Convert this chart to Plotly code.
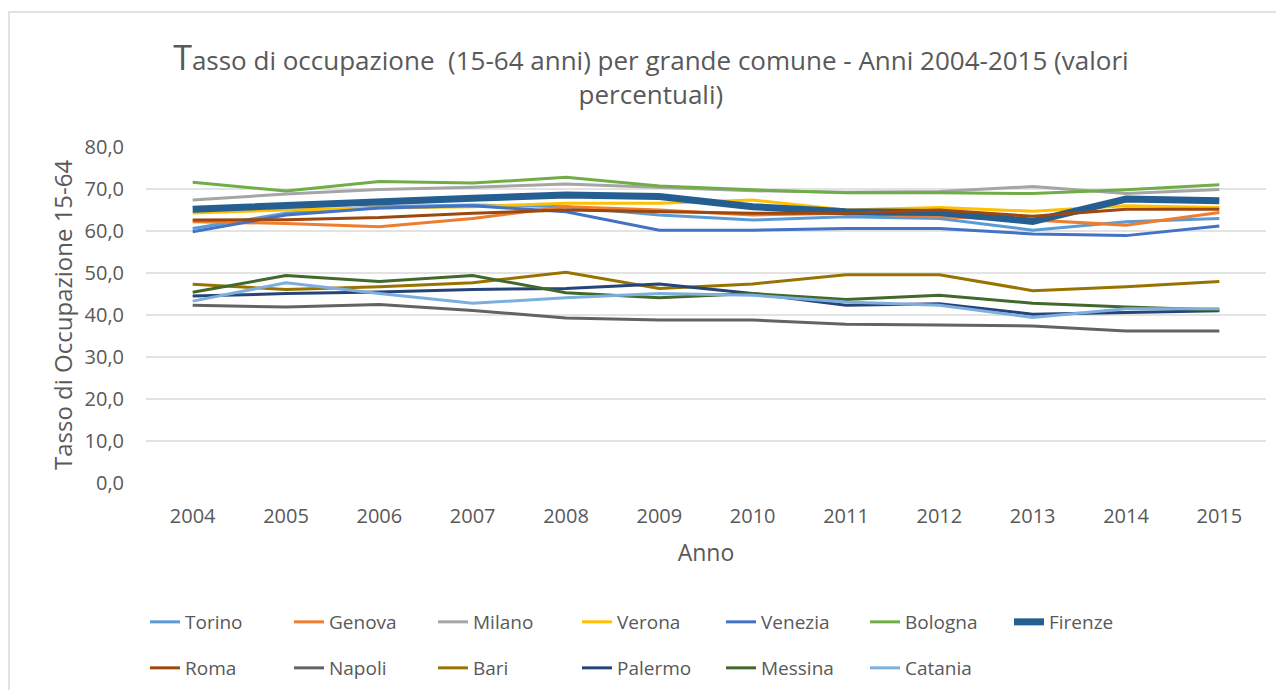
import plotly.graph_objects as go

years = ["2004", "2005", "2006", "2007", "2008", "2009", "2010", "2011", "2012", "2013", "2014", "2015"]

torino = [60.6, 64.2, 65.8, 66.2, 65.8, 63.8, 62.6, 63.4, 63.0, 60.2, 62.2, 63.0]
genova = [62.2, 61.8, 61.0, 63.0, 65.8, 65.0, 63.8, 64.2, 63.4, 62.6, 61.4, 64.4]
milano = [67.4, 68.8, 69.9, 70.4, 71.2, 70.4, 69.6, 69.2, 69.4, 70.6, 68.9, 69.9]
verona = [64.3, 65.0, 65.5, 65.8, 66.6, 66.6, 67.4, 65.0, 65.6, 64.7, 66.0, 65.6]
venezia = [59.8, 63.8, 65.5, 66.0, 64.6, 60.2, 60.2, 60.6, 60.6, 59.3, 58.9, 61.2]
bologna = [71.6, 69.5, 71.8, 71.4, 72.8, 70.7, 69.8, 69.1, 69.1, 68.9, 69.8, 71.0]
firenze = [65.2, 66.2, 67.0, 67.8, 68.6, 68.2, 65.8, 64.6, 64.4, 62.3, 67.6, 67.2]
roma = [62.6, 62.7, 63.2, 64.2, 65.0, 64.6, 64.2, 64.2, 65.0, 63.5, 65.2, 65.2]
napoli = [42.3, 41.9, 42.5, 41.1, 39.3, 38.8, 38.8, 37.8, 37.6, 37.4, 36.2, 36.2]
bari = [47.3, 46.1, 46.7, 47.7, 50.2, 46.3, 47.4, 49.6, 49.6, 45.8, 46.7, 48.0]
palermo = [44.5, 45.1, 45.5, 46.1, 46.3, 47.4, 45.1, 42.3, 42.7, 40.2, 40.6, 41.0]
messina = [45.4, 49.4, 48.0, 49.4, 45.3, 44.1, 45.1, 43.7, 44.7, 42.8, 41.9, 41.2]
catania = [43.3, 47.7, 45.1, 42.8, 44.1, 45.1, 44.7, 43.1, 42.3, 39.4, 41.5, 41.5]

series = [
    ("Torino", torino, "#5B9BD5", 3, "legend"),
    ("Genova", genova, "#ED7D31", 3, "legend"),
    ("Milano", milano, "#A5A5A5", 3, "legend"),
    ("Verona", verona, "#FFC000", 3, "legend"),
    ("Venezia", venezia, "#4472C4", 3, "legend"),
    ("Bologna", bologna, "#70AD47", 3, "legend"),
    ("Firenze", firenze, "#255E91", 7, "legend"),
    ("Roma", roma, "#9E480E", 3, "legend2"),
    ("Napoli", napoli, "#636363", 3, "legend2"),
    ("Bari", bari, "#997300", 3, "legend2"),
    ("Palermo", palermo, "#264478", 3, "legend2"),
    ("Messina", messina, "#43682B", 3, "legend2"),
    ("Catania", catania, "#7CAFDD", 3, "legend2"),
]

FONT = "Open Sans"
GREY = "#595959"

# figure is 1268x682 (page body margin of 8px brings it to the window size)
W, H = 1268, 682
PL, PR, PT, PB = 138, 1258, 139, 475  # plot area in figure pixels


def px_x(fx):
    return (fx - PL) / (PR - PL)


def px_y(fy):
    return (PB - fy) / (PB - PT)


fig = go.Figure()
for name, vals, color, width, leg in series:
    fig.add_trace(go.Scatter(
        x=years, y=vals, name=name, mode="lines",
        line=dict(color=color, width=width),
        legend=leg,
    ))

legend_common = dict(
    orientation="h", xanchor="left", yanchor="top",
    xref="container", yref="container",
    entrywidth=99, entrywidthmode="pixels",
    font=dict(family=FONT, size=19, color=GREY),
    bgcolor="rgba(0,0,0,0)", itemsizing="trace",
    tracegroupgap=0,
)

fig.update_layout(
    width=W, height=H,
    paper_bgcolor="white", plot_bgcolor="white",
    margin=dict(l=PL, r=W - PR, t=PT, b=H - PB),
    separators=",.",
    font=dict(family=FONT, color=GREY),
    title=dict(
        text='<span style="font-size:34px">T</span>asso di occupazione  (15-64 anni) per grande comune - Anni 2004-2015 (valori<br>percentuali)',
        x=0.507, xanchor="center", y=1 - 62 / H, yanchor="top",
        font=dict(family=FONT, size=26, color=GREY),
    ),
    xaxis=dict(
        type="category", range=[-0.5, 11.5],
        showgrid=False, showline=False, ticks="",
        tickfont=dict(family=FONT, size=20, color=GREY),
        ticklabelstandoff=19,
        title=dict(text="Anno", font=dict(family=FONT, size=23, color=GREY), standoff=16),
    ),
    yaxis=dict(
        range=[0, 80], dtick=10, tickformat=".1f",
        showgrid=True, gridcolor="#E3E3E3", gridwidth=1.5,
        zeroline=False, showline=False, ticks="",
        tickfont=dict(family=FONT, size=20, color=GREY),
        ticklabelstandoff=21,
    ),
    annotations=[dict(
        text="Tasso di Occupazione 15-64", textangle=-90,
        xref="paper", yref="paper", x=px_x(54), y=0.5,
        xanchor="center", yanchor="middle", showarrow=False,
        font=dict(family=FONT, size=24, color=GREY),
    )],
    legend=dict(x=137 / W, y=1 - 595 / H, **legend_common),
    legend2=dict(x=137 / W, y=1 - 641 / H, **legend_common),
    shapes=[dict(
        type="rect", xref="paper", yref="paper",
        x0=px_x(1), x1=px_x(1320),
        y0=px_y(720), y1=px_y(4),
        line=dict(color="#D9D9D9", width=1.5), fillcolor="rgba(0,0,0,0)", layer="below",
    )],
)

fig.write_html("out.html")
